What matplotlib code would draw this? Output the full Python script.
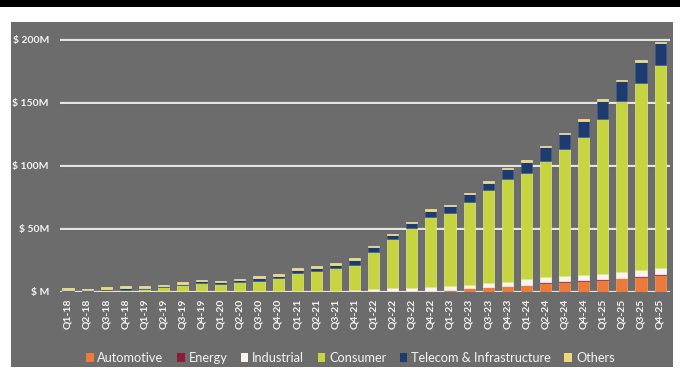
import matplotlib
matplotlib.use("Agg")
import matplotlib.pyplot as plt
from matplotlib.patches import Rectangle, Patch
import numpy as np

plt.rcParams['font.family'] = ['Lato', 'DejaVu Sans']

quarters = [f"Q{q}-{y}" for y in range(18, 26) for q in range(1, 5)]

automotive = [0, 0, 0, 0, 0, 0, 0, 0, 0, 0, 0, 0, 0, 0, 0, 0.2,
              0.3, 0.4, 0.5, 0.6, 1.3, 2.6, 3.4, 4.5, 5.3, 7.1, 7.9, 8.7, 9.3, 10.6, 11.9, 13.2]
energy = [0, 0, 0, 0, 0, 0, 0, 0, 0, 0, 0, 0, 0, 0, 0, 0,
          0.1, 0.1, 0.1, 0.2, 0.2, 0.2, 0.3, 0.3, 0.3, 0.4, 0.4, 0.4, 0.5, 0.5, 0.5, 0.6]
industrial = [0.3, 0.2, 0.3, 0.3, 0.3, 0.3, 0.4, 0.4, 0.4, 0.4, 0.5, 0.5, 0.6, 0.7, 0.8, 1.5,
              2.0, 2.2, 2.4, 2.6, 3.0, 2.5, 3.0, 3.2, 4.3, 4.0, 3.8, 4.0, 4.3, 4.3, 4.6, 4.8]
consumer = [0.5, 0.4, 0.7, 1.0, 1.6, 3.2, 4.9, 6.3, 5.7, 7.0, 8.0, 10.1, 14.0, 16.0, 17.8, 19.5,
            29.3, 38.9, 47.3, 55.6, 58.2, 66.1, 74.0, 81.4, 84.6, 92.5, 101.4, 109.9, 123.2, 136.2, 148.9, 161.3]
telecom = [0.9, 0.7, 1.2, 1.7, 1.3, 1.0, 1.1, 1.5, 1.4, 1.5, 2.6, 2.1, 2.6, 2.3, 2.6, 4.0,
           3.5, 3.4, 4.0, 5.0, 5.3, 6.1, 5.8, 7.7, 8.7, 10.6, 11.4, 12.5, 14.0, 15.4, 16.6, 17.2]
others = [1.0, 0.8, 1.3, 1.3, 1.1, 1.1, 1.1, 1.1, 1.0, 1.1, 1.4, 1.1, 1.4, 1.4, 1.3, 1.3,
          1.3, 1.0, 1.3, 1.4, 1.0, 1.1, 1.4, 1.1, 1.3, 1.3, 1.0, 1.3, 1.4, 1.3, 1.4, 1.1]

y_ticks = [0, 50, 100, 150, 200]
y_labels = ["$ M", "$ 50M", "$ 100M", "$ 150M", "$ 200M"]

series = [
    ("Automotive", automotive, "#ec7a3a", "#f39a62"),
    ("Energy", energy, "#8a1d3c", "#a3374f"),
    ("Industrial", industrial, "#f7f5ee", "#ffffff"),
    ("Consumer", consumer, "#c6d43f", "#e2ea8a"),
    ("Telecom & Infrastructure", telecom, "#1d3b6e", "#3d5c92"),
    ("Others", others, "#f1d779", "#f7e6a6"),
]

W, H = 680, 374
fig = plt.figure(figsize=(W / 100, H / 100), dpi=100)
fig.patch.set_facecolor("white")

# page decoration: black rule on top, gray chart panel
fig.add_artist(Rectangle((0, 1 - 7 / H), 1, 7 / H, transform=fig.transFigure,
                         facecolor="black", edgecolor="none", zorder=0))
fig.add_artist(Rectangle((11 / W, 1 - 367 / H), (673 - 11) / W, (367 - 22) / H,
                         transform=fig.transFigure, facecolor="#6c6c6c",
                         edgecolor="none", zorder=0))

px_per_m = 1.26
base_px, top_px = 291.7, 30
left_px, right_px = 60, 670
ax = fig.add_axes([left_px / W, 1 - base_px / H, (right_px - left_px) / W,
                   (base_px - top_px) / H])
ax.set_facecolor("none")
ax.set_ylim(0, (base_px - top_px) / px_per_m)
ax.set_xlim(-0.42, 31.52)

for s in ax.spines.values():
    s.set_visible(False)

# gridlines with a soft shadow underneath
for v in y_ticks:
    ax.axhline(v - 0.9, color="#555555", lw=1.6, zorder=1, alpha=0.7)
    ax.axhline(v, color="#e4e4e4", lw=1.6, zorder=2)

x = np.arange(len(quarters))
bottom = np.zeros(len(quarters))
for name, vals, col, edge in series:
    vals = np.array(vals, dtype=float)
    ax.bar(x, vals, width=0.58, bottom=bottom, color=col, edgecolor=edge,
           linewidth=0.5, zorder=3, label=name)
    bottom += vals

ax.set_yticks(y_ticks)
ax.set_yticklabels(y_labels, color="#f4f4f4", fontsize=7.5, fontweight="bold")
ax.set_xticks(x)
ax.set_xticklabels(quarters, rotation=90, color="#f4f4f4", fontsize=7.5,
                   fontweight="bold", va="top")
ax.tick_params(axis="both", length=0)
ax.tick_params(axis="y", pad=8)
ax.tick_params(axis="x", pad=5)

handles = [Patch(facecolor=c, edgecolor="none") for _, _, c, _ in series]
labels = [n for n, _, _, _ in series]
fig.legend(handles, labels, loc="center", bbox_to_anchor=(0.515, 1 - 358 / H),
           ncol=6, frameon=False, fontsize=9.2, labelcolor="#f4f4f4",
           handlelength=0.6, handleheight=0.6, handletextpad=0.3,
           columnspacing=1.05, borderaxespad=0)

fig.savefig("out.png", dpi=100, facecolor=fig.get_facecolor())
